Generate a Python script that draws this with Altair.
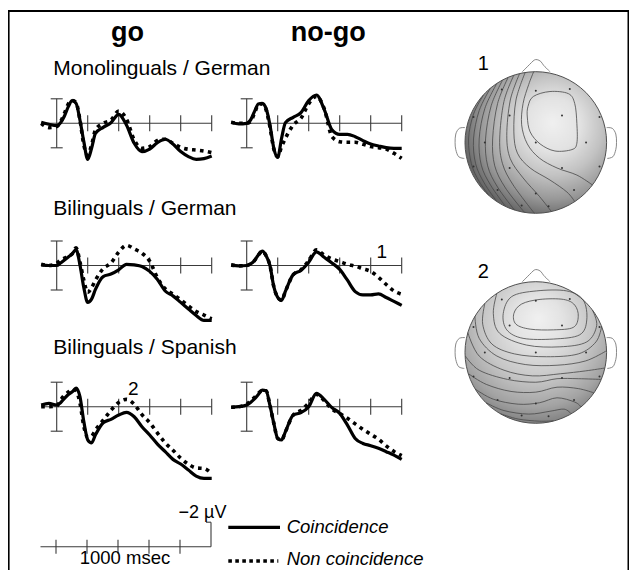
import altair as alt
import pandas as pd

# ---------------- data ----------------
TIMES = [-100, -50, 0, 25, 50, 75, 100, 125, 150, 175, 200, 225, 250, 300, 350,
         400, 450, 500, 550, 600, 650, 700, 750, 800, 850, 900, 950, 1000]

# amplitudes in microvolts (negative plotted upward)
GO_MONO_COINC = [-0.08, 0.08, 0.19, -0.05, -0.6, -1.36, -1.85, -1.63, -0.27, 1.5, 2.94, 2.04, 0.82,
                 0.33, -0.05, -0.73, 0.14, 1.63, 2.31, 2.1, 1.58, 1.3, 1.69, 2.31, 2.72, 2.94, 2.88, 2.67]
GO_MONO_NONCOINC = [0.0, 0.35, 0.27, -0.14, -0.82, -1.58, -1.85, -1.69, -0.27, 1.77, 2.59, 1.77, 0.54,
                    0.0, -0.27, -1.0, -0.35, 1.36, 2.04, 1.9, 1.41, 1.3, 1.63, 1.96, 2.12, 2.18, 2.26, 2.39]
NOGO_MONO_COINC = [-0.08, 0.05, 0.0, -0.27, -0.95, -1.58, -1.63, -1.22, 0.14, 2.04, 2.78, 1.22, -0.05,
                   -0.49, -0.87, -1.85, -2.31, -1.14, 0.54, 0.9, 0.9, 1.09, 1.41, 1.69, 1.85, 1.99, 2.04, 2.04]
NOGO_MONO_NONCOINC = [-0.08, 0.0, 0.0, -0.14, -0.82, -1.5, -1.58, -1.1, 0.3, 2.1, 2.72, 1.9, 1.22,
                      0.14, -0.41, -1.6, -2.2, -1.2, 1.09, 1.5, 1.55, 1.55, 1.71, 1.9, 1.99, 2.1, 2.45, 2.86]
GO_BIDE_COINC = [-0.05, 0.0, 0.0, -0.2, -0.45, -0.7, -0.95, -1.3, -0.05, 1.81, 3.01, 2.75, 1.95,
                 0.9, 0.7, 0.35, -0.1, -0.05, 0.08, 0.48, 1.15, 2.08, 2.48, 3.01, 3.55, 4.08, 4.48, 4.48]
GO_BIDE_NONCOINC = [-0.11, 0.0, -0.19, -0.45, -0.6, -0.75, -0.95, -1.45, -0.3, 1.2, 2.2, 1.8, 1.2,
                    0.25, -0.2, -1.1, -1.65, -1.35, -1.0, -0.35, 1.0, 1.9, 2.35, 2.8, 3.3, 3.75, 4.05, 4.35]
NOGO_BIDE_COINC = [-0.05, 0.03, 0.0, -0.13, -0.4, -0.85, -1.17, -0.8, 0.0, 1.73, 2.6, 2.85, 2.1,
                   0.75, 0.4, -0.27, -1.12, -0.67, -0.21, 0.32, 1.2, 2.13, 2.4, 2.4, 2.32, 2.61, 2.93, 3.25]
NOGO_BIDE_NONCOINC = [-0.05, 0.03, 0.0, -0.13, -0.4, -0.85, -1.17, -0.8, 0.0, 1.73, 2.6, 2.85, 2.1,
                      0.75, 0.35, -0.4, -1.28, -0.85, -0.53, -0.32, -0.1, 0.05, 0.27, 0.48, 0.96, 1.55, 2.08, 2.35]
GO_BIES_COINC = [-0.14, -0.27, -0.14, -0.33, -0.68, -1.0, -1.22, -1.52, -0.82, 1.22, 2.7, 2.95, 2.3,
                 1.31, 1.03, 0.68, 0.46, 0.82, 1.63, 2.31, 3.05, 3.67, 4.3, 4.68, 5.17, 5.66, 5.85, 5.85]
GO_BIES_NONCOINC = [0.0, 0.0, -0.05, -0.55, -0.95, -1.2, -1.4, -1.3, -0.3, 1.6, 2.5, 2.4, 1.9,
                    1.1, 0.3, -0.35, -0.6, -0.2, 0.65, 1.3, 2.15, 2.95, 3.55, 4.2, 4.7, 5.0, 5.05, 5.45]
NOGO_BIES_COINC = [0.05, 0.0, -0.14, -0.35, -0.63, -1.0, -1.36, -1.3, -0.1, 1.36, 2.59, 2.72, 2.04,
                   0.68, 0.49, 0.0, -1.09, -0.6, 0.08, 0.54, 1.5, 2.59, 3.0, 3.18, 3.4, 3.67, 3.95, 4.3]
NOGO_BIES_NONCOINC = [0.05, 0.0, -0.2, -0.5, -0.75, -1.1, -1.3, -1.3, -0.1, 1.36, 2.59, 2.72, 2.04,
                      0.68, 0.3, -0.3, -1.0, -0.5, 0.2, 0.55, 0.95, 1.4, 1.85, 2.25, 2.65, 3.2, 3.65, 4.0]

EPOCH = [-100, 1000]
TICK_TIMES = [200, 400, 600, 800, 1000]
SCALE_TICKS = [0, 200, 400, 600, 800]
SCALE_END = 1000
BAR_UV = 2

COLUMNS = ["go", "no-go"]
GROUPS = ["Monolinguals / German", "Bilinguals / German", "Bilinguals / Spanish"]
CONDITIONS = ["Coincidence", "Non coincidence"]

# scalp maps, head coordinates (radius = 1, y downward)
MAP1_OPEN = [
    [(-0.74, -0.67), (-0.88, -0.40), (-0.95, -0.05), (-0.91, 0.30), (-0.80, 0.55), (-0.66, 0.75)],
    [(-0.64, -0.77), (-0.80, -0.45), (-0.88, -0.05), (-0.85, 0.30), (-0.73, 0.57), (-0.55, 0.835)],
    [(-0.55, -0.835), (-0.72, -0.48), (-0.80, -0.05), (-0.77, 0.32), (-0.64, 0.60), (-0.43, 0.90)],
    [(-0.47, -0.88), (-0.63, -0.52), (-0.71, -0.05), (-0.68, 0.33), (-0.54, 0.63), (-0.30, 0.955)],
    [(-0.39, -0.92), (-0.54, -0.55), (-0.61, -0.05), (-0.58, 0.33), (-0.43, 0.64), (-0.16, 0.987)],
    [(-0.31, -0.95), (-0.45, -0.58), (-0.51, -0.05), (-0.47, 0.30), (-0.32, 0.60), (-0.02, 1.0)],
    [(-0.23, -0.97), (-0.36, -0.60), (-0.41, -0.10), (-0.36, 0.23), (-0.18, 0.50), (0.05, 0.76), (0.22, 0.975)],
    [(-0.15, -0.99), (-0.28, -0.60), (-0.31, -0.15), (-0.26, 0.15), (-0.08, 0.36), (0.20, 0.53), (0.44, 0.70), (0.55, 0.835)],
    [(-0.03, -1.0), (-0.10, -0.82), (-0.18, -0.55), (-0.20, -0.25), (-0.12, 0.02), (0.05, 0.22), (0.30, 0.36), (0.58, 0.46), (0.80, 0.60)],
]
MAP1_CLOSED = [
    [(-0.11, -0.51), (-0.035, -0.65), (0.2, -0.72), (0.46, -0.69), (0.55, -0.55), (0.58, -0.27),
     (0.58, 0.01), (0.51, 0.10), (0.27, 0.12), (0.06, 0.02), (-0.08, -0.15), (-0.12, -0.36)],
]
MAP2_OPEN = [
    [(-0.55, -0.835), (-0.60, -0.55), (-0.51, -0.27), (-0.13, -0.105), (0.34, -0.08), (0.72, -0.15), (0.86, -0.38), (0.80, -0.60)],
    [(-0.72, -0.69), (-0.75, -0.40), (-0.62, -0.12), (-0.30, 0.02), (0.15, 0.06), (0.60, 0.02), (0.85, -0.15), (0.93, -0.37)],
    [(-0.86, -0.51), (-0.80, -0.20), (-0.55, 0.05), (-0.15, 0.17), (0.30, 0.18), (0.70, 0.12), (0.99, -0.02)],
    [(-0.96, -0.28), (-0.80, 0.05), (-0.45, 0.25), (-0.05, 0.33), (0.35, 0.30), (0.70, 0.26), (0.97, 0.22)],
    [(-0.995, 0.05), (-0.80, 0.25), (-0.40, 0.38), (0.0, 0.42), (0.30, 0.37), (0.60, 0.37), (0.92, 0.38)],
    [(-0.95, 0.30), (-0.70, 0.45), (-0.35, 0.55), (0.0, 0.56), (0.30, 0.49), (0.60, 0.51), (0.82, 0.57)],
    [(-0.85, 0.52), (-0.60, 0.66), (-0.25, 0.73), (0.05, 0.71), (0.30, 0.64), (0.55, 0.70), (0.64, 0.77)],
    [(-0.70, 0.71), (-0.45, 0.82), (-0.10, 0.87), (0.20, 0.83), (0.40, 0.80), (0.50, 0.865)],
    [(-0.50, 0.865), (-0.25, 0.94), (0.05, 0.97), (0.25, 0.965)],
]
MAP2_CLOSED = [
    [(-0.31, -0.55), (-0.20, -0.685), (0.06, -0.75), (0.39, -0.75), (0.55, -0.67), (0.60, -0.51),
     (0.53, -0.355), (0.25, -0.32), (-0.08, -0.33), (-0.28, -0.40)],
    [(-0.46, -0.55), (-0.34, -0.79), (0.01, -0.87), (0.435, -0.87), (0.67, -0.74), (0.72, -0.46),
     (0.62, -0.25), (0.25, -0.19), (-0.18, -0.20), (-0.41, -0.32)],
]
ELECTRODE_U = [-0.48, 0.0, 0.48, -0.37, 0.37, -0.72, 0.0, 0.71, -0.37, 0.37, -0.54, 0.0, 0.54,
               -0.2, 0.18, -0.88, 0.9, -0.88, 0.9]
ELECTRODE_V = [-0.75, -0.73, -0.755, -0.38, -0.38, 0.0, 0.0, 0.0, 0.36, 0.36, 0.67, 0.72, 0.67,
               0.89, 0.9, -0.36, -0.36, 0.34, 0.34]
NOSE = [(-0.19, -1.0), (-0.12, -1.07), (-0.06, -1.13), (-0.02, -1.165), (0.02, -1.17),
        (0.07, -1.145), (0.11, -1.09), (0.15, -1.05), (0.20, -1.0)]
LEFT_EAR = [(-1.0, -0.21), (-1.08, -0.2), (-1.13, -0.12), (-1.14, 0.0), (-1.13, 0.1),
            (-1.09, 0.2), (-1.01, 0.225)]
RIGHT_EAR = [(1.0, -0.21), (1.08, -0.2), (1.13, -0.12), (1.14, 0.0), (1.13, 0.1),
             (1.09, 0.2), (1.01, 0.225)]

# ---------------- layout & style ----------------
W, H = 621, 562
OX, OY = 8, 8
KX = 0.155        # px per ms
KY = 12.25        # px per microvolt
KR = 70.8         # px per head radius
COL_X0 = [56.7, 246.7]
ROW_Y0 = [123.3, 265.5, 406.7]
SCALEBAR_X0, SCALEBAR_Y0 = 56.0, 546.7
MAP_CX = 535.8
MAP_CY = [142.5, 352.5]
FONT = "Liberation Sans, Arial, Helvetica, sans-serif"
AXC = "#3a3a3a"


def tscale(x0):
    c = x0 - OX
    return alt.Scale(domain=[-c / KX, (W - c) / KX], nice=False, zero=False)


def ascale(y0):
    c = y0 - OY
    return alt.Scale(domain=[-c / KY, (H - c) / KY], nice=False, zero=False, reverse=True)


def hx(cx):
    c = cx - OX
    return alt.Scale(domain=[-c / KR, (W - c) / KR], nice=False, zero=False)


def hy(cy):
    c = cy - OY
    return alt.Scale(domain=[-c / KR, (H - c) / KR], nice=False, zero=False, reverse=True)


def erp_panel(coinc, noncoinc, x0, y0):
    xs, ys = tscale(x0), ascale(y0)
    X = alt.X("t:Q", scale=xs, axis=None)
    Y = alt.Y("amp:Q", scale=ys, axis=None)
    wave = pd.DataFrame({
        "t": TIMES + TIMES,
        "amp": coinc + noncoinc,
        "cond": [CONDITIONS[0]] * len(TIMES) + [CONDITIONS[1]] * len(TIMES),
    })
    axis = alt.Chart(pd.DataFrame({"t": [EPOCH[0]], "t2": [EPOCH[1]], "amp": [0]})).mark_rule(
        color=AXC, strokeWidth=1.1).encode(x=X, x2="t2:Q", y=Y)
    ticks = alt.Chart(pd.DataFrame({"t": TICK_TIMES, "amp": [0] * len(TICK_TIMES)})).mark_tick(
        orient="vertical", size=16, thickness=1.1, color=AXC, opacity=1).encode(x=X, y=Y)
    bar = alt.Chart(pd.DataFrame({"t": [0], "amp": [-BAR_UV], "amp2": [BAR_UV]})).mark_rule(
        color=AXC, strokeWidth=1.1).encode(x=X, y=Y, y2="amp2:Q")
    caps = alt.Chart(pd.DataFrame({"t": [0, 0], "amp": [-BAR_UV, BAR_UV]})).mark_tick(
        orient="horizontal", size=12, thickness=1.1, color=AXC, opacity=1).encode(x=X, y=Y)
    dotted = alt.Chart(wave).transform_filter(alt.datum.cond == CONDITIONS[1]).mark_line(
        color="black", strokeWidth=3.6, strokeDash=[3.6, 4.4], strokeCap="butt",
        interpolate="monotone").encode(x=X, y=Y)
    solid = alt.Chart(wave).transform_filter(alt.datum.cond == CONDITIONS[0]).mark_line(
        color="black", strokeWidth=3.2, interpolate="monotone").encode(x=X, y=Y)
    return alt.layer(axis, ticks, bar, caps, dotted, solid)


def scale_bar():
    xs, ys = tscale(SCALEBAR_X0), ascale(SCALEBAR_Y0)
    X = alt.X("t:Q", scale=xs, axis=None)
    Y = alt.Y("amp:Q", scale=ys, axis=None)
    axis = alt.Chart(pd.DataFrame({"t": [EPOCH[0]], "t2": [SCALE_END], "amp": [0]})).mark_rule(
        color=AXC, strokeWidth=1.1).encode(x=X, x2="t2:Q", y=Y)
    ticks = alt.Chart(pd.DataFrame({"t": SCALE_TICKS, "amp": [0] * len(SCALE_TICKS)})).mark_tick(
        orient="vertical", size=14, thickness=1.1, color=AXC, opacity=1).encode(x=X, y=Y)
    bar = alt.Chart(pd.DataFrame({"t": [SCALE_END], "amp": [-BAR_UV], "amp2": [0]})).mark_rule(
        color=AXC, strokeWidth=1.1).encode(x=X, y=Y, y2="amp2:Q")
    cap = alt.Chart(pd.DataFrame({"t": [SCALE_END], "amp": [-BAR_UV]})).mark_tick(
        orient="horizontal", size=5, thickness=1.1, color=AXC, opacity=1, xOffset=-2.5).encode(x=X, y=Y)
    return alt.layer(axis, ticks, bar, cap)


def line_table(lines):
    rows = []
    for k, pts in enumerate(lines):
        for i, (u, v) in enumerate(pts):
            rows.append({"line": k, "i": i, "u": u, "v": v})
    return pd.DataFrame(rows)


def scalp_map(open_lines, closed_lines, cy, gradient):
    xs, ys = hx(MAP_CX), hy(cy)
    X = alt.X("u:Q", scale=xs, axis=None)
    Y = alt.Y("v:Q", scale=ys, axis=None)
    disc = alt.Chart(pd.DataFrame({"u": [0.0], "v": [0.0]})).mark_point(
        shape="circle", filled=True, fill=gradient, size=(2 * KR) ** 2, stroke="#505050",
        strokeWidth=1, opacity=1).encode(x=X, y=Y)
    open_c = alt.Chart(line_table(open_lines)).mark_line(
        color="#474747", strokeWidth=0.8, interpolate="cardinal").encode(
        x=X, y=Y, detail="line:N", order="i:Q")
    closed_c = alt.Chart(line_table(closed_lines)).mark_line(
        color="#474747", strokeWidth=0.8, interpolate="cardinal-closed").encode(
        x=X, y=Y, detail="line:N", order="i:Q")
    outline = alt.Chart(line_table([NOSE, LEFT_EAR, RIGHT_EAR])).mark_line(
        color="#6a6a6a", strokeWidth=0.8, interpolate="cardinal").encode(
        x=X, y=Y, detail="line:N", order="i:Q")
    elec = alt.Chart(pd.DataFrame({"u": ELECTRODE_U, "v": ELECTRODE_V})).mark_point(
        shape="circle", filled=True, size=4, color="#333333", opacity=1).encode(x=X, y=Y)
    return alt.layer(disc, open_c, closed_c, outline, elec)


GRAD1 = {"gradient": "radial", "x1": 0.62, "y1": 0.36, "r1": 0.0, "x2": 0.62, "y2": 0.4, "r2": 0.64,
         "stops": [{"offset": 0.0, "color": "#f0f0f0"}, {"offset": 0.3, "color": "#e2e2e2"},
                   {"offset": 0.55, "color": "#c2c2c2"}, {"offset": 0.8, "color": "#979797"},
                   {"offset": 1.0, "color": "#666666"}]}
GRAD2 = {"gradient": "radial", "x1": 0.52, "y1": 0.26, "r1": 0.0, "x2": 0.5, "y2": 0.34, "r2": 0.7,
         "stops": [{"offset": 0.0, "color": "#f0f0f0"}, {"offset": 0.25, "color": "#e3e3e3"},
                   {"offset": 0.55, "color": "#c6c6c6"}, {"offset": 0.8, "color": "#a3a3a3"},
                   {"offset": 1.0, "color": "#777777"}]}

ONE = pd.DataFrame({"a": [0]})


def text(s, x, y, size, align="left", weight="normal", style="normal"):
    return alt.Chart(ONE).mark_text(
        text=s, font=FONT, fontSize=size, fontWeight=weight, fontStyle=style, align=align,
        baseline="alphabetic", color="black").encode(x=alt.value(x - OX), y=alt.value(y - OY))


def hrule(x1, x2, y, width, dash=None):
    kw = dict(color="black", strokeWidth=width)
    if dash:
        kw.update(strokeDash=dash, strokeCap="butt")
    return alt.Chart(ONE).mark_rule(**kw).encode(
        x=alt.value(x1 - OX), x2=alt.value(x2 - OX), y=alt.value(y - OY))


def vrule(x, y1, y2, width):
    return alt.Chart(ONE).mark_rule(color="black", strokeWidth=width).encode(
        x=alt.value(x - OX), y=alt.value(y1 - OY), y2=alt.value(y2 - OY))


layers = []
series = [
    (GO_MONO_COINC, GO_MONO_NONCOINC, NOGO_MONO_COINC, NOGO_MONO_NONCOINC),
    (GO_BIDE_COINC, GO_BIDE_NONCOINC, NOGO_BIDE_COINC, NOGO_BIDE_NONCOINC),
    (GO_BIES_COINC, GO_BIES_NONCOINC, NOGO_BIES_COINC, NOGO_BIES_NONCOINC),
]
for r, (gc, gn, nc, nn) in enumerate(series):
    layers.append(erp_panel(gc, gn, COL_X0[0], ROW_Y0[r]))
    layers.append(erp_panel(nc, nn, COL_X0[1], ROW_Y0[r]))
layers.append(scale_bar())
layers.append(scalp_map(MAP1_OPEN, MAP1_CLOSED, MAP_CY[0], GRAD1))
layers.append(scalp_map(MAP2_OPEN, MAP2_CLOSED, MAP_CY[1], GRAD2))

# frame
layers += [
    hrule(8, 629, 11, 2),
    vrule(8.8, 11, OY + H, 1.6),
    vrule(628.3, 11, OY + H, 1.6),
]

# texts
layers += [
    text(COLUMNS[0], 127.5, 40.7, 27, align="center", weight="bold"),
    text(COLUMNS[1], 328.3, 40.7, 27, align="center", weight="bold"),
    text(GROUPS[0], 53.3, 75, 21),
    text(GROUPS[1], 53.3, 215, 21),
    text(GROUPS[2], 53.3, 354.3, 21),
    text("1", 381.7, 258.3, 19, align="center"),
    text("2", 133.3, 395, 19, align="center"),
    text("1", 483.3, 70, 20, align="center"),
    text("2", 483.3, 278.3, 20, align="center"),
    text("\u22122 \u00b5V", 202.5, 518.3, 18, align="center"),
    text("1000 msec", 125, 564, 18.5, align="center"),
    text(CONDITIONS[0], 286.7, 533.3, 18.5, style="italic"),
    text(CONDITIONS[1], 286.7, 565, 18.5, style="italic"),
    hrule(228.3, 280, 527.3, 3.2),
    hrule(228.3, 278.3, 561, 3.6, dash=[3.6, 3.4]),
]

chart = alt.layer(*layers).resolve_scale(x="independent", y="independent").properties(
    width=W, height=H, padding=0, autosize=alt.AutoSizeParams(type="none"), background="white"
).configure_view(stroke=None)

chart.save("out.html", embed_options={"renderer": "svg", "actions": False})
